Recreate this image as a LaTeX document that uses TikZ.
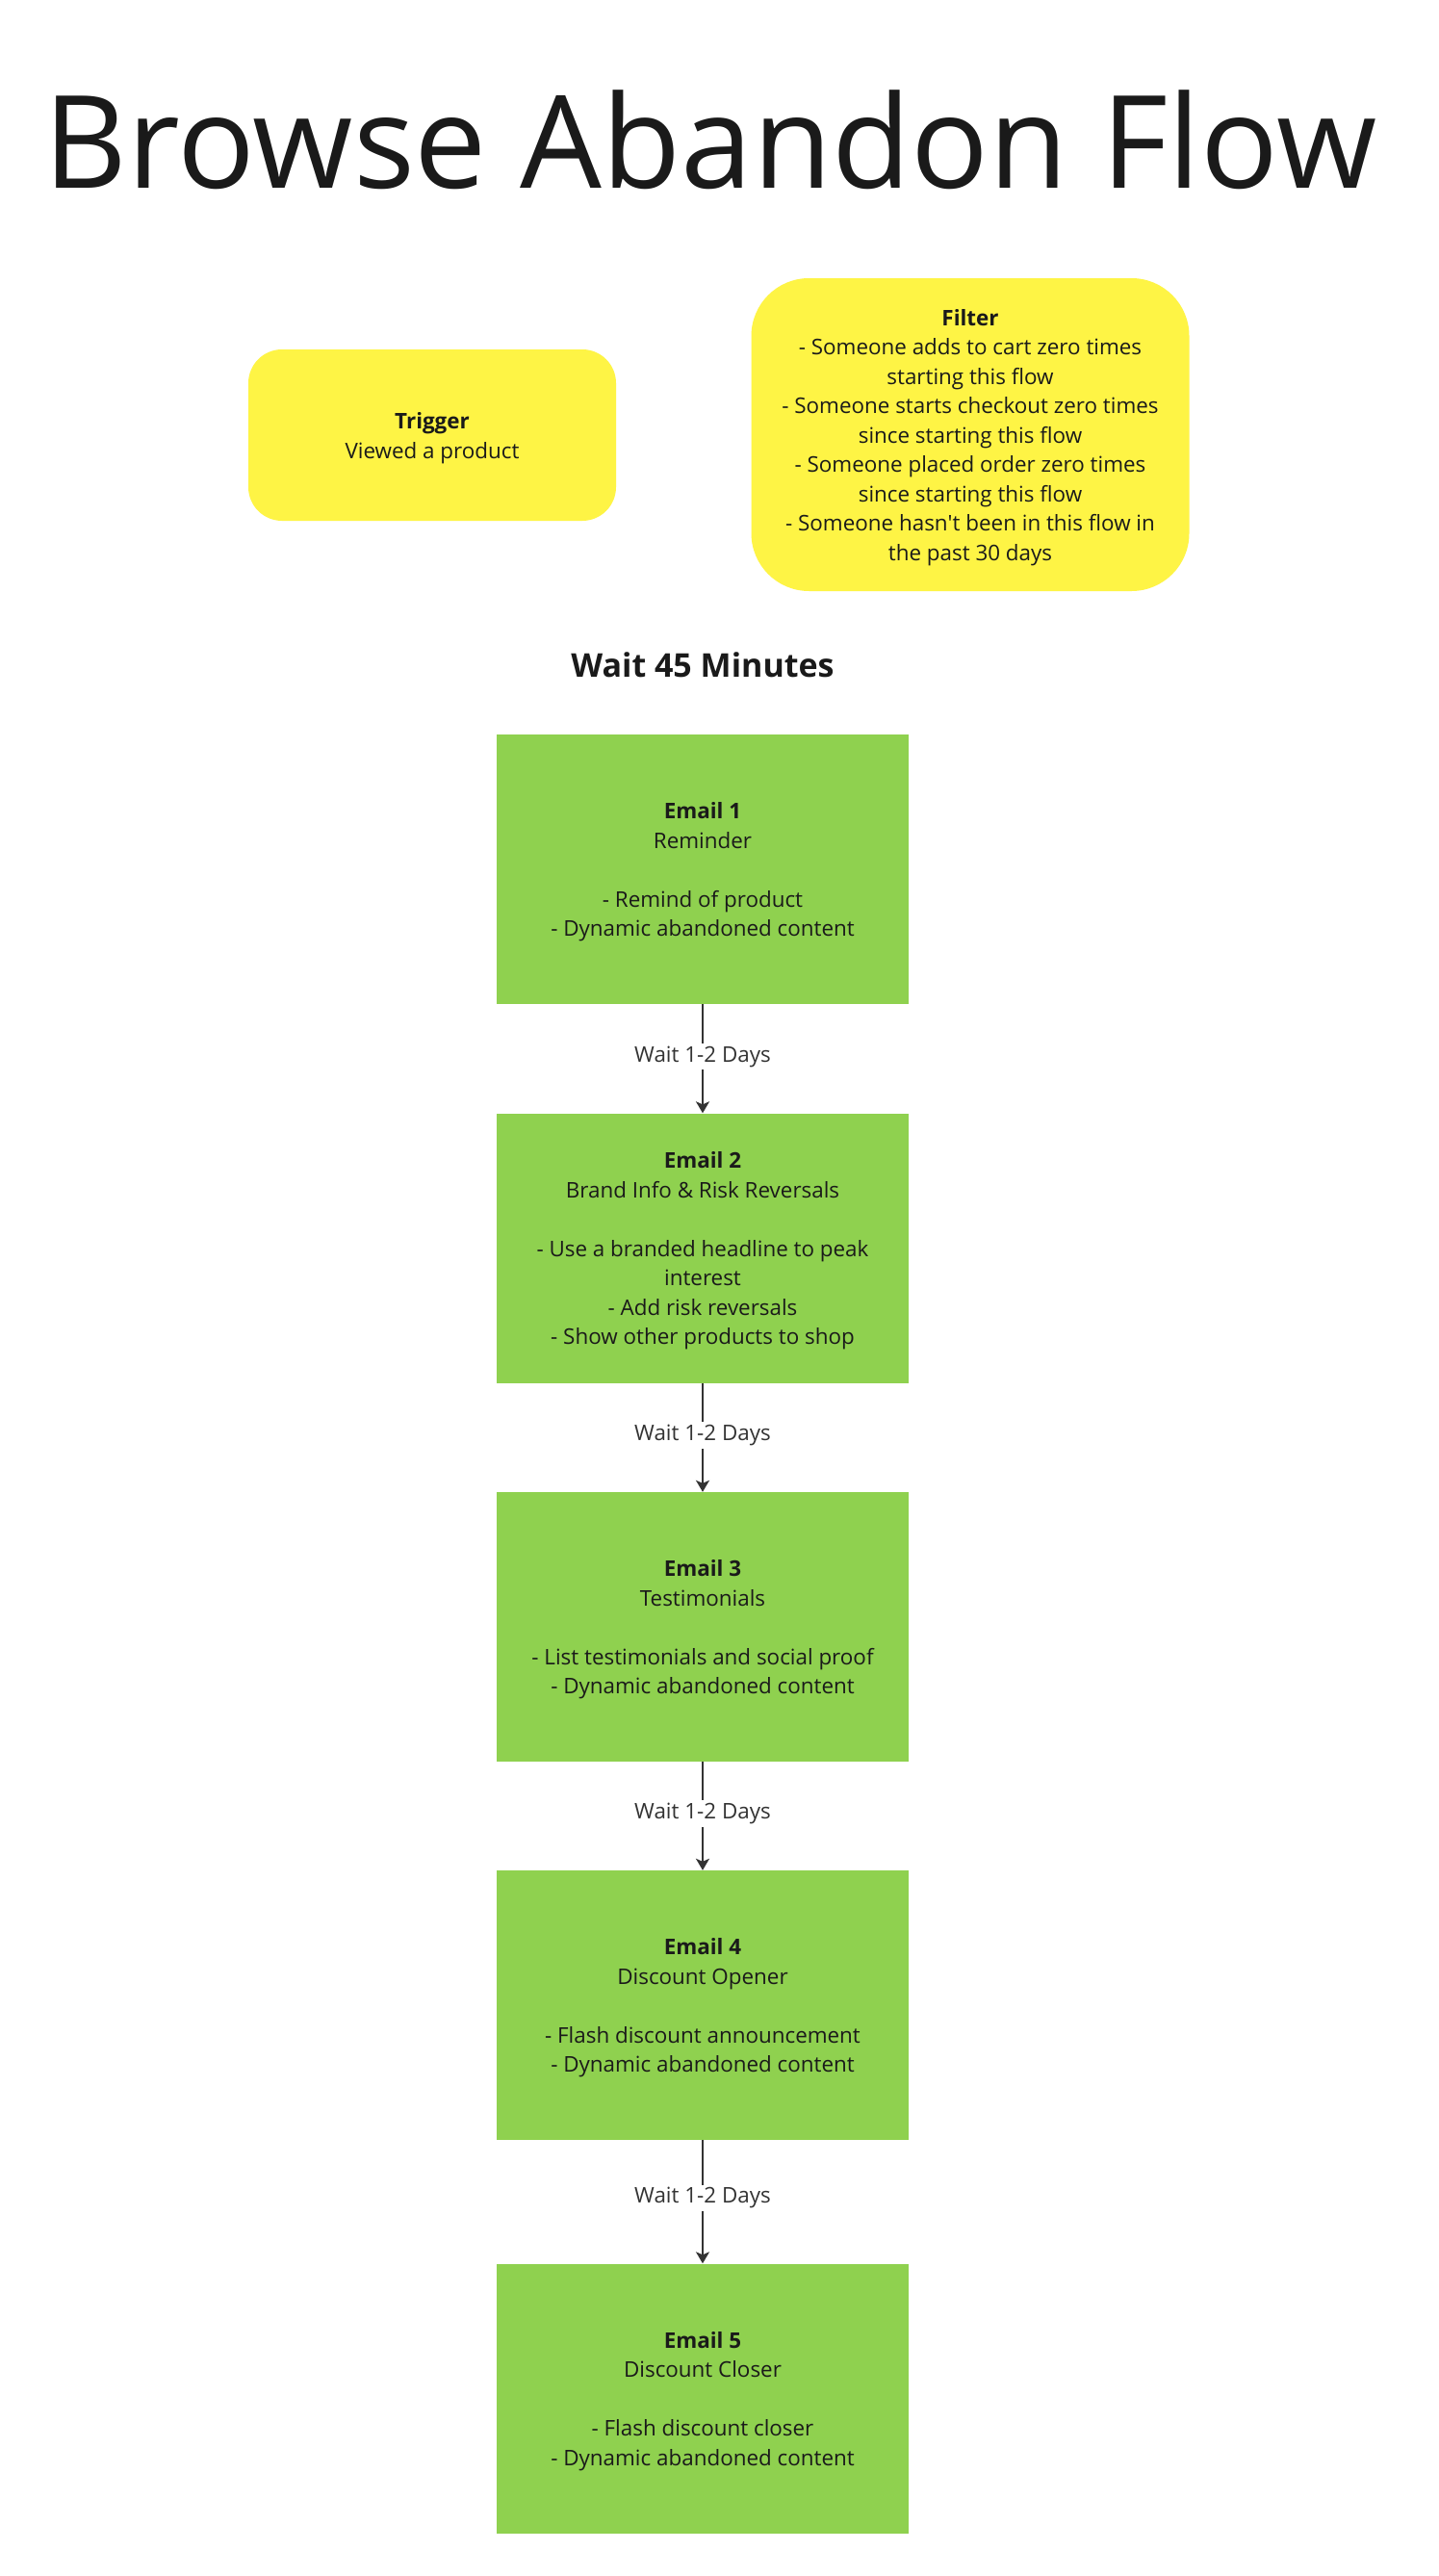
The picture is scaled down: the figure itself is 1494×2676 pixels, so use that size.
\documentclass[tikz,border=0pt]{standalone}
\usepackage{fontspec}
\setmainfont{Open Sans}
\usetikzlibrary{arrows.meta}
\definecolor{mgreen}{HTML}{8FD14F}
\definecolor{myellow}{HTML}{FEF445}
\definecolor{ink}{HTML}{1A1A1A}
\definecolor{linec}{HTML}{333333}
\tikzset{
  body/.style={font=\fontsize{22.4}{30.5}\selectfont, text=ink, align=center},
  emailbox/.style={fill=mgreen, draw=none, minimum width=428pt, minimum height=280pt, inner sep=0pt},
  stickybox/.style={fill=myellow, draw=none, inner sep=0pt},
  flowarrow/.style={draw=linec, line width=1.8pt, -{Stealth[length=12pt,width=14pt,inset=3pt]}},
  waitlbl/.style={body, fill=white, text=linec, inner xsep=2pt, inner ysep=3pt}
}
\begin{document}
\begin{tikzpicture}[x=1pt,y=-1pt]
\useasboundingbox[fill=white] (0,0) rectangle (1494,2676);

\node[anchor=base, font=\fontsize{134}{160}\selectfont, text=ink] (title) at (738,195) {Browse Abandon Flow};

\node[stickybox, rounded corners=35pt, minimum width=382pt, minimum height=178pt] (trigger) at (449,452) {};
\node[body] (triggert) at ([yshift=-3pt]trigger.center) {\textbf{Trigger}\\Viewed a product};
\node[stickybox, rounded corners=60pt, minimum width=455pt, minimum height=325pt] (filter) at (1008,451.5) {};
\node[body] (filtert) at ([yshift=-3pt]filter.center)
  {\textbf{Filter}\\- Someone adds to cart zero times\\starting this flow\\- Someone starts checkout zero times\\since starting this flow\\- Someone placed order zero times\\since starting this flow\\- Someone hasn\textquotesingle t been in this flow in\\the past 30 days};

\node[anchor=base, font=\fontsize{34}{41}\selectfont\bfseries, text=ink] (wait45) at (730,703) {Wait 45 Minutes};

\node[emailbox] (e1) at (730,903) {};
\node[body] (e1t) at ([yshift=-3pt]e1.center)
  {\textbf{Email 1}\\Reminder\\[30.5pt]- Remind of product\\- Dynamic abandoned content};
\node[emailbox] (e2) at (730,1296.5) {};
\node[body] (e2t) at ([yshift=-3pt]e2.center)
  {\textbf{Email 2}\\Brand Info \& Risk Reversals\\[30.5pt]- Use a branded headline to peak\\interest\\- Add risk reversals\\- Show other products to shop};
\node[emailbox] (e3) at (730,1690) {};
\node[body] (e3t) at ([yshift=-3pt]e3.center)
  {\textbf{Email 3}\\Testimonials\\[30.5pt]- List testimonials and social proof\\- Dynamic abandoned content};
\node[emailbox] (e4) at (730,2083) {};
\node[body] (e4t) at ([yshift=-3pt]e4.center)
  {\textbf{Email 4}\\Discount Opener\\[30.5pt]- Flash discount announcement\\- Dynamic abandoned content};
\node[emailbox] (e5) at (730,2491.5) {};
\node[body] (e5t) at ([yshift=-3pt]e5.center)
  {\textbf{Email 5}\\Discount Closer\\[30.5pt]- Flash discount closer\\- Dynamic abandoned content};

\draw[flowarrow] (e1) -- node[waitlbl, pos=0.48] (w1) {Wait 1-2 Days} (e2);
\draw[flowarrow] (e2) -- node[waitlbl, pos=0.48] (w2) {Wait 1-2 Days} (e3);
\draw[flowarrow] (e3) -- node[waitlbl, pos=0.48] (w3) {Wait 1-2 Days} (e4);
\draw[flowarrow] (e4) -- node[waitlbl, pos=0.47] (w4) {Wait 1-2 Days} (e5);
\end{tikzpicture}
\end{document}
